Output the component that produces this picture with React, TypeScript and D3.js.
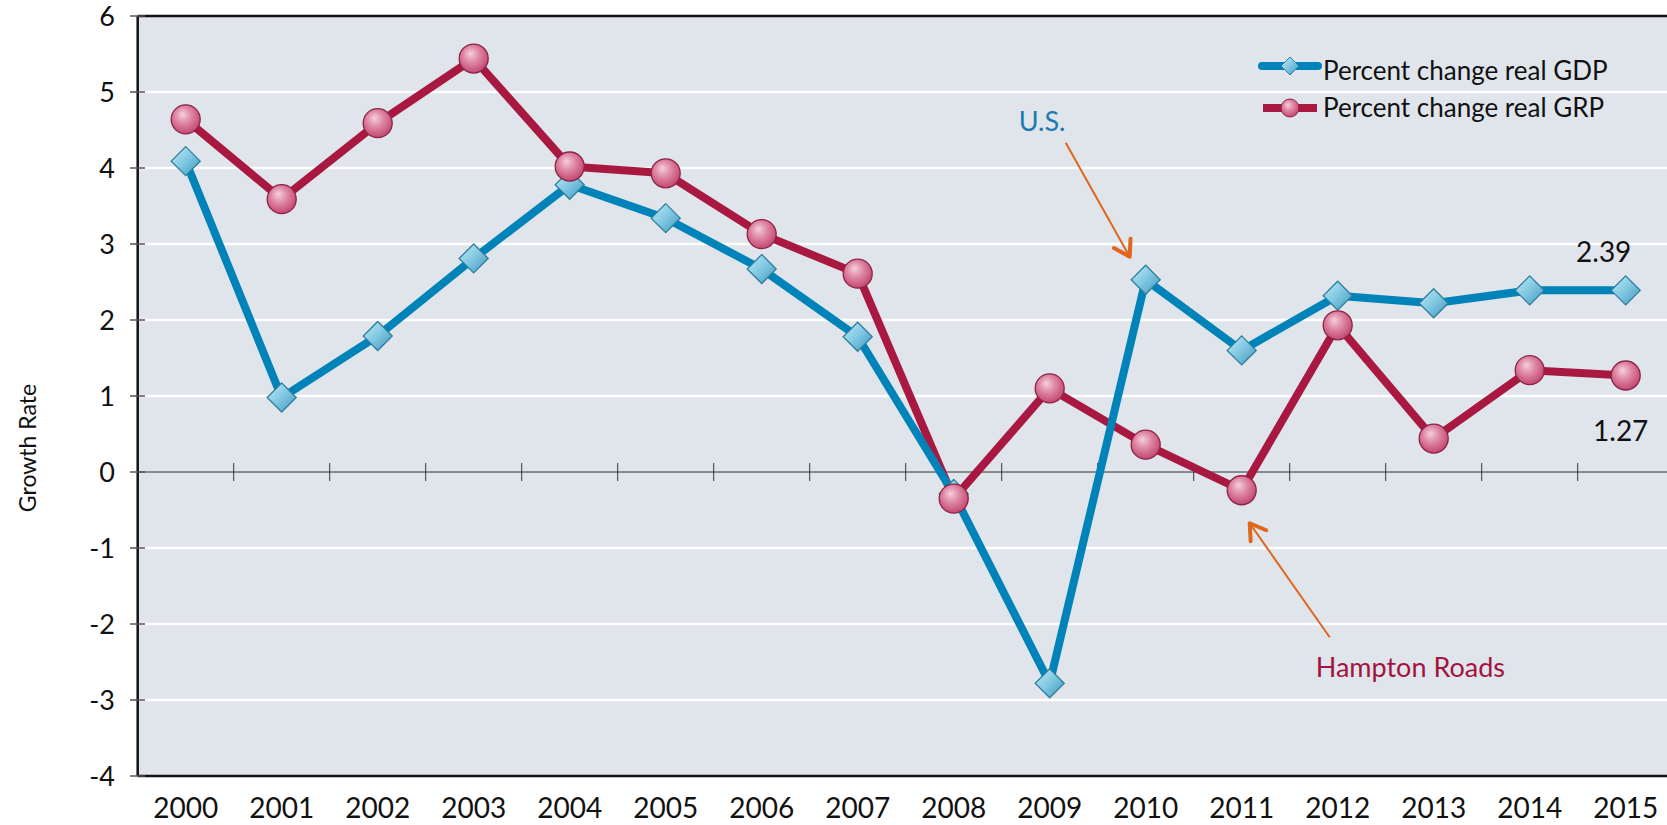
import React from "react";
import * as d3 from "d3";

const years = ["2000","2001","2002","2003","2004","2005","2006","2007","2008","2009","2010","2011","2012","2013","2014","2015"];
const gdp = [4.09, 0.98, 1.79, 2.81, 3.78, 3.34, 2.67, 1.78, -0.29, -2.78, 2.53, 1.60, 2.32, 2.22, 2.39, 2.39];
const grp = [4.64, 3.59, 4.59, 5.44, 4.02, 3.93, 3.13, 2.61, -0.35, 1.10, 0.36, -0.24, 1.93, 0.44, 1.34, 1.27];
const yTicks = [6, 5, 4, 3, 2, 1, 0, -1, -2, -3, -4];
const legendLabels = ["Percent change real GDP", "Percent change real GRP"];

const W = 1667, H = 825;
const FONT = "Lato, 'Open Sans', sans-serif";
const BLUE = "#0083B8";
const RED = "#A91841";
const ORANGE = "#E0661C";

export default function App() {
  const x = d3.scaleBand().domain(years).range([137.7, 137.7 + 96 * years.length]).padding(0);
  const y = d3.scaleLinear().domain([-4, 6]).range([776, 16]);
  const cx = (i: number) => (x(years[i]) as number) + x.bandwidth() / 2;
  const left = 137.7;
  const right = W;

  const line = d3.line<number>().x((_, i) => cx(i)).y((d) => y(d));

  const diamond = (px: number, py: number, r: number) =>
    `M${px},${py - r}L${px + r},${py}L${px},${py + r}L${px - r},${py}Z`;

  const arrowHead = (x1: number, y1: number, x2: number, y2: number, len: number) => {
    const a = Math.atan2(y2 - y1, x2 - x1);
    const s = (Math.PI * 32) / 180;
    const p1 = [x2 - len * Math.cos(a - s), y2 - len * Math.sin(a - s)];
    const p2 = [x2 - len * Math.cos(a + s), y2 - len * Math.sin(a + s)];
    return `M${p1[0]},${p1[1]}L${x2},${y2}L${p2[0]},${p2[1]}`;
  };

  const usX = cx(10), usY = y(gdp[10]);
  const usTip = [usX - 16, usY - 23];
  const usStart = [usX - 80, usY - 137];
  const hrX = cx(11), hrY = y(grp[11]);
  const hrTip = [hrX + 8, hrY + 33];
  const hrStart = [hrX + 88, hrY + 147];

  const legY1 = 66, legY2 = 108;

  return (
    <svg width={W} height={H} style={{ position: "absolute", left: 0, top: 0, background: "#fff" }} fontFamily={FONT}>
      <defs>
        <linearGradient id="dg" x1="0" y1="0" x2="1" y2="1">
          <stop offset="0%" stopColor="#C4E9F5" />
          <stop offset="45%" stopColor="#86CBE4" />
          <stop offset="100%" stopColor="#3F97BE" />
        </linearGradient>
        <radialGradient id="cg" cx="45%" cy="40%" r="60%" fx="38%" fy="32%">
          <stop offset="0%" stopColor="#F4D0DB" />
          <stop offset="45%" stopColor="#E08AA6" />
          <stop offset="100%" stopColor="#C14772" />
        </radialGradient>
      </defs>

      <rect x={left} y={y(6)} width={right - left} height={y(-4) - y(6)} fill="#DFE5EA" />

      {yTicks.filter((t) => t !== 0 && t !== -4 && t !== 6).map((t) => (
        <line key={t} x1={left} x2={right} y1={y(t)} y2={y(t)} stroke="#fff" strokeWidth={2.5} />
      ))}

      <line x1={left} x2={right} y1={y(0)} y2={y(0)} stroke="#333" strokeWidth={1} />
      {years.slice(1).map((yr) => (
        <line key={yr} x1={x(yr) as number} x2={x(yr) as number} y1={y(0) - 9} y2={y(0) + 9} stroke="#333" strokeWidth={1} />
      ))}

      <line x1={left} x2={right} y1={y(6)} y2={y(6)} stroke="#111" strokeWidth={2.5} />
      <line x1={left} x2={right} y1={y(-4)} y2={y(-4)} stroke="#111" strokeWidth={2.5} />
      <line x1={left} x2={left} y1={y(6)} y2={y(-4)} stroke="#111" strokeWidth={2.5} />

      {yTicks.map((t) => (
        <g key={t}>
          <line x1={130} x2={145} y1={y(t)} y2={y(t)} stroke="#555" strokeWidth={1.5} />
          <text x={115} y={y(t)} dy="0.36em" textAnchor="end" fontSize={27} fill="#111">{t}</text>
        </g>
      ))}

      {years.map((yr, i) => (
        <text key={yr} x={cx(i)} y={818} textAnchor="middle" fontSize={28} fill="#111">{yr}</text>
      ))}

      <text transform={`translate(36,448) rotate(-90)`} textAnchor="middle" fontSize={23} fill="#111">Growth Rate</text>

      <path d={line(grp) as string} fill="none" stroke={RED} strokeWidth={8} strokeLinejoin="round" />
      <path d={line(gdp) as string} fill="none" stroke={BLUE} strokeWidth={8} strokeLinejoin="round" />

      {gdp.map((v, i) => (
        <path key={"d" + i} d={diamond(cx(i), y(v), 14.5)} fill="url(#dg)" stroke="#2E7E9F" strokeWidth={1.3} />
      ))}
      {grp.map((v, i) => (
        <circle key={"c" + i} cx={cx(i)} cy={y(v)} r={14.5} fill="url(#cg)" stroke="#8E2346" strokeWidth={1.3} />
      ))}

      <line x1={1262} x2={1318} y1={legY1} y2={legY1} stroke={BLUE} strokeWidth={8} strokeLinecap="round" />
      <path d={diamond(1290, legY1, 9)} fill="url(#dg)" stroke="#2E7E9F" strokeWidth={1} />
      <text x={1323} y={80} fontSize={26} fill="#111">{legendLabels[0]}</text>
      <line x1={1263} x2={1317} y1={legY2} y2={legY2} stroke={RED} strokeWidth={8} />
      <circle cx={1290} cy={legY2} r={9} fill="url(#cg)" stroke="#8E2346" strokeWidth={1} />
      <text x={1323} y={117} fontSize={26} fill="#111">{legendLabels[1]}</text>

      <text x={usX - 127} y={usY - 149} fontSize={27} fill="#1A7AB3">U.S.</text>
      <line x1={usStart[0]} y1={usStart[1]} x2={usTip[0]} y2={usTip[1]} stroke={ORANGE} strokeWidth={2} />
      <path d={arrowHead(usStart[0], usStart[1], usTip[0], usTip[1], 18)} fill="none" stroke={ORANGE} strokeWidth={4} strokeLinecap="round" strokeLinejoin="round" />

      <text x={hrX + 74} y={hrY + 187} fontSize={27} fill="#A3133F">Hampton Roads</text>
      <line x1={hrStart[0]} y1={hrStart[1]} x2={hrTip[0]} y2={hrTip[1]} stroke={ORANGE} strokeWidth={2} />
      <path d={arrowHead(hrStart[0], hrStart[1], hrTip[0], hrTip[1], 18)} fill="none" stroke={ORANGE} strokeWidth={4} strokeLinecap="round" strokeLinejoin="round" />

      <text x={cx(15) - 22} y={y(gdp[15]) - 28} textAnchor="middle" fontSize={28} fill="#111">{gdp[15].toFixed(2)}</text>
      <text x={cx(15) - 5} y={y(grp[15]) + 66} textAnchor="middle" fontSize={28} fill="#111">{grp[15].toFixed(2)}</text>
    </svg>
  );
}
